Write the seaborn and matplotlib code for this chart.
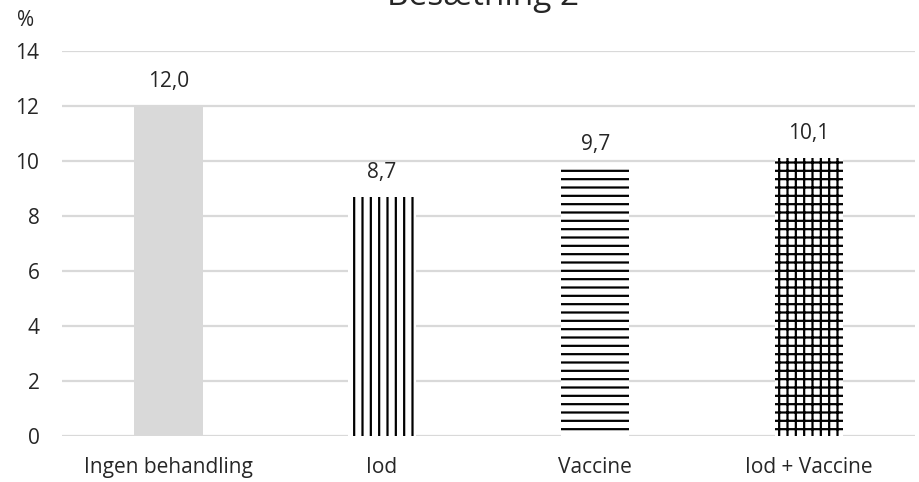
import pandas as pd
import matplotlib.pyplot as plt
import seaborn as sns

# data
categories = ['Ingen behandling', 'Iod', 'Vaccine', 'Iod + Vaccine']
values = [12.0, 8.7, 9.7, 10.1]
hatches = ['', '||', '--', '++']
colors = ['#d9d9d9', 'white', 'white', 'white']

sns.set_theme(style="white")
plt.rcParams['font.family'] = ['Open Sans', 'DejaVu Sans']
plt.rcParams['hatch.linewidth'] = 1.6

df = pd.DataFrame({'kategori': categories, 'procent': values})

fig = plt.figure(figsize=(9.2, 4.82), dpi=100)
ax = fig.add_axes([0.067, 0.0954, 0.928, 0.7987])

sns.barplot(data=df, x='kategori', y='procent', ax=ax, width=0.32,
            color='white', edgecolor='black', linewidth=0, zorder=3)

for patch, h, c in zip(ax.patches, hatches, colors):
    patch.set_facecolor(c)
    patch.set_hatch(h)
    patch.set_linewidth(0)

ax.bar_label(ax.containers[0], labels=[f'{v:.1f}'.replace('.', ',') for v in values],
             padding=10, fontsize=15, color='#262626')

ax.set_ylim(0, 14)
ax.set_xlim(-0.5, 3.5)
ax.set_yticks(range(0, 15, 2))
ax.yaxis.grid(True, color='#d9d9d9', linewidth=1.6, zorder=0)
ax.set_axisbelow(True)
sns.despine(ax=ax, left=True, bottom=True, top=True, right=True)
ax.tick_params(axis='y', length=0, pad=16, labelsize=15, labelcolor='#262626')
ax.tick_params(axis='x', length=0, pad=15, labelsize=15, labelcolor='#262626')
ax.set_xlabel('')
ax.set_ylabel('')

fig.text(0.018, 1 - 21 / 482, '%', fontsize=15, color='#262626', va='center', ha='left')
fig.text(0.525, 1 - 5 / 482, 'Besætning 2', fontsize=24, color='#262626',
         ha='center', va='baseline')

fig.savefig('out.png', dpi=100)
